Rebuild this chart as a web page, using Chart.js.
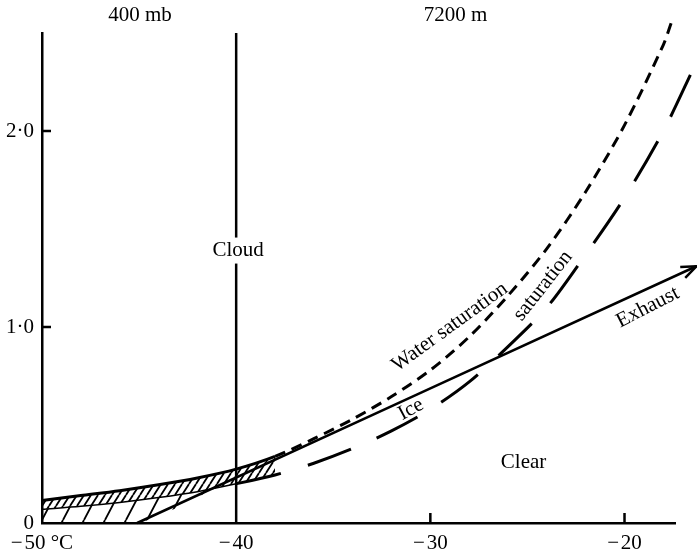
<!DOCTYPE html>
<html>
<head>
<meta charset="utf-8">
<script src="https://cdn.jsdelivr.net/npm/chart.js@4/dist/chart.umd.min.js"></script>
<style>
  html, body { margin: 0; background: #fff; }
  #wrap { width: 697px; height: 554px; }
</style>
</head>
<body>
<div id="wrap"><canvas id="myChart"></canvas></div>
<script>
// temperature (deg C) and mixing ratio
const waterT = [-50, -48, -46, -44, -42, -40, -38, -36, -34, -32, -30, -28, -26, -24, -22, -20, -18, -17.6];
const waterQ = [0.115, 0.14, 0.165, 0.195, 0.23, 0.275, 0.34, 0.43, 0.53, 0.645, 0.78, 0.95, 1.16, 1.40, 1.69, 2.03, 2.44, 2.55];

const iceT = [-50, -48, -46, -44, -42, -40, -38, -36, -34, -32, -30, -28, -26, -24, -22, -20, -18, -16.4];
const iceQ = [0.07, 0.085, 0.105, 0.13, 0.16, 0.20, 0.245, 0.305, 0.38, 0.47, 0.58, 0.72, 0.90, 1.10, 1.37, 1.66, 2.0, 2.33];

const exhaustT = [-45.1, -16.3];
const exhaustQ = [0, 1.31];

// lower edge of the sparse hatching (zero line, then exhaust line)
const hatchLowT = [-50, -45.1, -41];
const hatchLowQ = [0, 0, 0.18];

const xTicks = [-50, -40, -30, -20];
const yTicks = [0, 1, 2];

const labels = [
  { text: 'Cloud', x: -39.9, y: 1.39, angle: 0, knockout: true },
  { text: 'Clear', x: -25.2, y: 0.31, angle: 0 },
  { text: 'Water saturation', x: -29.0, y: 1.0, angle: -36 },
  { text: 'Ice', x: -31.0, y: 0.58, angle: -28 },
  { text: 'saturation', x: -24.2, y: 1.21, angle: -52 },
  { text: 'Exhaust', x: -18.8, y: 1.10, angle: -27 }
];
const topLabels = [
  { text: '400 mb', x: -44.95 },
  { text: '7200 m', x: -28.7 }
];

function toPoints(xs, ys) {
  return xs.map(function(x, i) { return { x: x, y: ys[i] }; });
}

const canvas = document.getElementById('myChart');
const mainCtx = canvas.getContext('2d');

function hatch(w, h, lw) {
  const c = document.createElement('canvas');
  c.width = w; c.height = h;
  const g = c.getContext('2d');
  g.strokeStyle = '#000';
  g.lineWidth = lw;
  g.beginPath();
  for (let k = -1; k <= 1; k++) {
    g.moveTo(k * w, h);
    g.lineTo(k * w + w, 0);
  }
  g.stroke();
  return mainCtx.createPattern(c, 'repeat');
}

const serif = 'Liberation Serif';
const fontSize = 21;
const water = toPoints(waterT, waterQ);
const ice = toPoints(iceT, iceQ);

const annotate = {
  id: 'annotate',
  afterDraw(chart) {
    const ctx = chart.ctx;
    const xs = chart.scales.x, ys = chart.scales.y;
    const area = chart.chartArea;
    ctx.save();
    ctx.strokeStyle = '#000';
    ctx.lineWidth = 2.5;
    // inward tick marks
    ctx.beginPath();
    [1, 2].forEach(function(v) {
      const py = ys.getPixelForValue(v);
      ctx.moveTo(area.left, py); ctx.lineTo(area.left + 9, py);
    });
    [-30, -20].forEach(function(v) {
      const px = xs.getPixelForValue(v);
      ctx.moveTo(px, area.bottom); ctx.lineTo(px, area.bottom - 10);
    });
    ctx.stroke();

    // arrow head on the exhaust line
    const pts = chart.getDatasetMeta(4).data;
    const a = pts[0], b = pts[pts.length - 1];
    const ang = Math.atan2(b.y - a.y, b.x - a.x);
    ctx.translate(b.x, b.y);
    ctx.rotate(ang);
    ctx.beginPath();
    ctx.moveTo(-15, -6); ctx.lineTo(0, 0); ctx.lineTo(-15, 6);
    ctx.stroke();
    ctx.setTransform(1, 0, 0, 1, 0, 0);

    ctx.font = fontSize + 'px "' + serif + '"';
    ctx.textAlign = 'center';
    ctx.textBaseline = 'middle';
    labels.forEach(function(l) {
      ctx.save();
      ctx.translate(xs.getPixelForValue(l.x), ys.getPixelForValue(l.y));
      ctx.rotate(l.angle * Math.PI / 180);
      if (l.knockout) {
        const w = ctx.measureText(l.text).width;
        ctx.fillStyle = '#fff';
        ctx.fillRect(-w / 2 - 2, -13, w + 4, 26);
      }
      ctx.fillStyle = '#000';
      ctx.fillText(l.text, 0, 0);
      ctx.restore();
    });
    ctx.fillStyle = '#000';
    topLabels.forEach(function(l) {
      ctx.fillText(l.text, xs.getPixelForValue(l.x), area.top - 18);
    });
    ctx.restore();
  }
};

const data = {
  datasets: [
    { // 0: water saturation
      data: water,
      borderColor: '#000',
      borderWidth: 3,
      pointRadius: 0,
      fill: false,
      segment: {
        borderDash: function(c) { return c.p0.parsed.x >= -38 ? [11, 7] : undefined; }
      }
    },
    { // 1: ice saturation
      data: ice,
      borderColor: '#000',
      borderWidth: 3,
      pointRadius: 0,
      fill: false,
      segment: {
        borderDash: function(c) { return c.p0.parsed.x >= -40 ? [46, 28] : undefined; },
        borderWidth: function(c) { return c.p0.parsed.x < -40 ? 1.5 : undefined; }
      }
    },
    { // 2: dense hatch band between the saturation curves
      data: water.filter(function(p) { return p.x <= -38; }),
      borderWidth: 0,
      pointRadius: 0,
      backgroundColor: hatch(7, 11, 1.8),
      fill: { target: 1 }
    },
    { // 3: sparse hatch below the ice curve
      data: toPoints(hatchLowT, hatchLowQ),
      borderWidth: 0,
      pointRadius: 0,
      backgroundColor: hatch(21, 40, 1.8),
      fill: { target: 1 }
    },
    { // 4: exhaust line
      data: toPoints(exhaustT, exhaustQ),
      borderColor: '#000',
      borderWidth: 2.5,
      pointRadius: 0,
      fill: false
    },
    { // 5: -40 degree line
      data: [{ x: -40, y: 0 }, { x: -40, y: 2.5 }],
      borderColor: '#000',
      borderWidth: 2.5,
      pointRadius: 0,
      fill: false
    }
  ]
};

const config = {
  type: 'line',
  data: data,
  plugins: [annotate],
  options: {
    responsive: true,
    maintainAspectRatio: false,
    animation: false,
    parsing: false,
    layout: { padding: { top: 33, right: 22, left: 0, bottom: 0 } },
    elements: { line: { tension: 0.3 } },
    datasets: { line: { clip: false } },
    plugins: { legend: false, tooltip: { enabled: false } },
    scales: {
      x: {
        type: 'linear',
        min: -50,
        max: -17.4,
        afterBuildTicks: function(s) { s.ticks = xTicks.map(function(v) { return { value: v }; }); },
        afterFit: function(s) { s.height = 31; },
        grid: { display: false, drawTicks: false, tickLength: 0 },
        border: { display: true, color: '#000', width: 2.5 },
        ticks: {
          color: '#000',
          padding: 8,
          maxRotation: 0,
          font: { family: serif, size: fontSize },
          callback: function(v) { return v === -50 ? '\u2212\u200a50 \u00b0C' : '\u2212\u200a' + Math.abs(v); }
        }
      },
      y: {
        type: 'linear',
        min: 0,
        max: 2.5,
        afterBuildTicks: function(s) { s.ticks = yTicks.map(function(v) { return { value: v }; }); },
        afterFit: function(s) { s.width = 42; },
        grid: { display: false, drawTicks: false, tickLength: 0 },
        border: { display: true, color: '#000', width: 2.5 },
        ticks: {
          color: '#000',
          padding: 8,
          font: { family: serif, size: fontSize },
          callback: function(v) { return v === 0 ? '0' : v.toFixed(1).replace('.', '\u00b7'); }
        }
      }
    }
  }
};

const myChart = new Chart(canvas, config);
</script>
</body>
</html>
